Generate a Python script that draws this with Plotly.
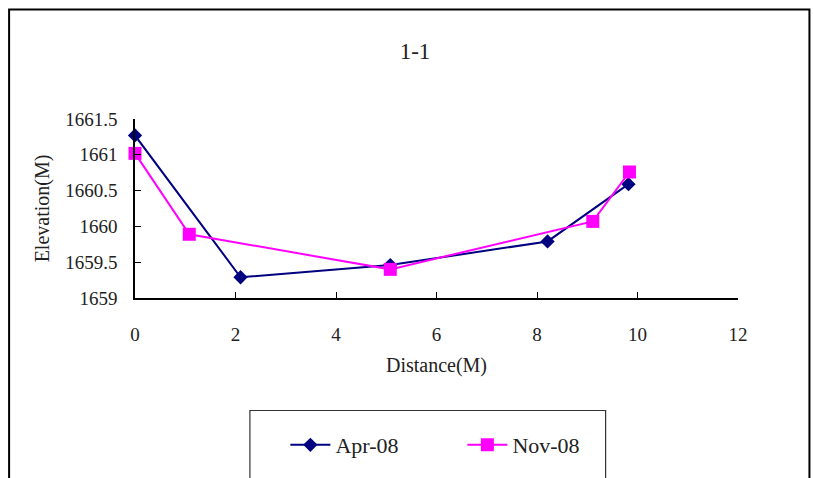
import plotly.graph_objects as go

# Data
apr_x = [0, 2.1, 5.08, 8.21, 9.82]
apr_y = [1661.27, 1659.29, 1659.46, 1659.79, 1660.59]
nov_x = [0, 1.08, 5.08, 9.11, 9.84]
nov_y = [1661.02, 1659.89, 1659.40, 1660.07, 1660.76]
x_ticks = [0, 2, 4, 6, 8, 10, 12]
y_ticks = [1659, 1659.5, 1660, 1660.5, 1661, 1661.5]
y_tick_labels = ["1659", "1659.5", "1660", "1660.5", "1661", "1661.5"]

W, H = 813, 478
L, R, T, B = 134.5, 738, 119, 298
pw, ph = R - L, B - T

def px(x):
    return (x - L) / pw

def py(y):
    return (B - y) / ph

FONT = "Liberation Serif"
TXT = "#222"

fig = go.Figure()
fig.add_trace(go.Scatter(
    x=apr_x, y=apr_y, mode="lines+markers", name="Apr-08",
    line=dict(color="#000080", width=2),
    marker=dict(symbol="diamond", size=11, color="#000080"),
    cliponaxis=False,
))
fig.add_trace(go.Scatter(
    x=nov_x, y=nov_y, mode="lines+markers", name="Nov-08",
    line=dict(color="#FF00FF", width=2),
    marker=dict(symbol="square", size=13, color="#FF00FF"),
    cliponaxis=False,
))

fig.update_layout(
    width=W, height=H,
    margin=dict(l=L, r=W - R, t=T, b=H - B, pad=0),
    paper_bgcolor="white", plot_bgcolor="white",
    font=dict(family=FONT, size=19, color=TXT),
    title=dict(text="1-1", x=415 / W, xanchor="center", xref="container",
               y=1 - 51 / H, yanchor="middle", yref="container",
               font=dict(family=FONT, size=23, color=TXT)),
    showlegend=True,
    legend=dict(orientation="h", x=px(285), y=py(445), xanchor="left", yanchor="middle",
                xref="paper", yref="paper",
                font=dict(family=FONT, size=22, color=TXT),
                bgcolor="rgba(0,0,0,0)", borderwidth=0,
                entrywidth=122, entrywidthmode="pixels", itemwidth=40),
    xaxis=dict(range=[0, 12], tickvals=x_ticks, ticks="inside", ticklen=6,
               tickcolor="black", showline=True, linecolor="black", linewidth=1.5,
               showgrid=False, zeroline=False, ticklabelstandoff=18,
               tickfont=dict(family=FONT, size=19, color=TXT),
               title=dict(text="Distance(M)", standoff=14,
                          font=dict(family=FONT, size=20, color=TXT))),
    yaxis=dict(range=[1659, 1661.5], tickvals=y_ticks, ticktext=y_tick_labels,
               ticks="inside", ticklen=6, tickcolor="black", showline=True,
               linecolor="black", linewidth=1.5, showgrid=False, zeroline=False,
               ticklabelstandoff=12,
               tickfont=dict(family=FONT, size=19, color=TXT),
               title=dict(text="Elevation(M)", standoff=10,
                          font=dict(family=FONT, size=20, color=TXT))),
    shapes=[
        dict(type="rect", xref="paper", yref="paper",
             x0=px(8.5), x1=px(809.5), y0=py(520), y1=py(9.5),
             line=dict(color="black", width=2), fillcolor="rgba(0,0,0,0)", layer="below"),
        dict(type="rect", xref="paper", yref="paper",
             x0=px(249.5), x1=px(605.5), y0=py(520), y1=py(410.5),
             line=dict(color="#333", width=1.2), fillcolor="rgba(0,0,0,0)", layer="below"),
    ],
)

fig.write_html("out.html", config={"displayModeBar": False},
               post_script="document.body.style.margin='0';document.body.style.overflow='hidden';")
